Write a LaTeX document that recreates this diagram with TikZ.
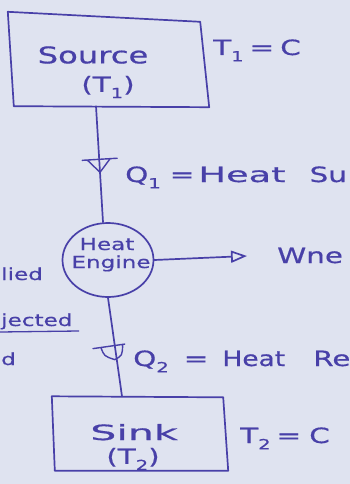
\documentclass[tikz,border=0pt]{standalone}
\usepackage{fontspec}
\usepackage{graphicx}
\newfontfamily\hand[FakeStretch=1.4,FakeBold=0.6]{DejaVu Sans}
\usetikzlibrary{arrows.meta,decorations.markings,calc,shapes.geometric}
\definecolor{paper}{RGB}{223,227,240}
\definecolor{ink}{RGB}{72,64,168}
\newcommand\subs[1]{\raisebox{-0.3em}{\fontsize{14}{14}\selectfont #1}}
\begin{document}
\begin{tikzpicture}[x=1pt,y=-1pt,
  every node/.style={text=ink,inner sep=0pt,font=\hand\fontsize{21}{23}\selectfont},
  inkline/.style={draw=ink,line width=1.7pt,line join=round,line cap=round},
  boxnode/.style={draw=none,minimum width=#1},
  small/.style={font=\hand\fontsize{16.5}{18}\selectfont},
  tipone/.style={postaction={decorate},decoration={markings,
     mark=at position #1 with {\draw[ink,line width=1.4pt,line join=round,line cap=round]
       (-13pt,-17pt) -- (-13pt,18pt) (-13pt,-12pt) -- (0pt,0pt) -- (-13pt,11pt);}}},
  tiptwo/.style={postaction={decorate},decoration={markings,
     mark=at position #1 with {\draw[ink,line width=1.4pt,line join=round,line cap=round]
       (-14pt,-22pt) -- (-14pt,10pt) (-14pt,-14pt) .. controls (-5pt,-12pt) .. (0pt,-2pt)
       .. controls (-3pt,6pt) .. (-14pt,8pt);}}}
]
\fill[paper] (0,0) rectangle (350,484);
\useasboundingbox (0,0) rectangle (350,484);
\clip (0,0) rectangle (350,484);

% Source box
\node[boxnode=197pt,minimum height=93pt] (src) at (108.5,59.5) {};
\draw[inkline] ($(src.north west)+(-2,-1)$) -- ($(src.north east)+(-7,9)$)
  -- ($(src.south east)+(2,1)$) -- ($(src.south west)+(4,0)$) -- cycle;
\node[font=\hand\fontsize{23}{25}\selectfont] (srct) at (93,55) {Source};
\node (srcn) at (108,87) {(T\subs{1})};
\node[anchor=base west] (t1c) at (213,55) {T\subs{1}\hspace{6pt}=\hspace{6pt}C};

% Heat engine
\node[draw=ink,line width=1.7pt,ellipse,minimum width=91pt,minimum height=74pt] (eng) at (108,260) {};
\node[small,anchor=base] (engh) at (107,250) {Heat};
\node[small,anchor=base] (enge) at (111,268) {Engine};

% Sink box
\node[boxnode=174pt,minimum height=75pt] (snk) at (140,434) {};
\draw[inkline] ($(snk.north west)+(-1,0)$) -- ($(snk.north east)+(-4,1)$)
  -- ($(snk.south east)+(1,-1)$) -- ($(snk.south west)+(2,-1)$) -- cycle;
\node[anchor=base] (snkt) at (134,440) {\scalebox{1.4}[1]{Sink}};
\node (snkn) at (133,459) {(T\subs{2})};
\node[anchor=base west] (t2c) at (240,443) {T\subs{2}\hspace{6pt}=\hspace{8pt}C};

% connectors
\draw[inkline,tipone=0.57] ([xshift=-12.5pt]src.south) -- ([xshift=-5pt]eng.north);
\draw[inkline,tiptwo=0.625] (eng.south) -- ([xshift=-18pt]snk.north);
\coordinate (wtip) at (247,256);
\draw[inkline,-{Triangle[open,width=12pt,length=16pt]}] (eng.east) -- (wtip);

% labels
\node[anchor=base west] (q1) at (125,182)
  {Q\subs{1}\hspace{9pt}=\hspace{4pt}\scalebox{1.25}[1]{Heat}\hspace{24pt}Su};
\node[anchor=base west] (w) at (277,263) {Wne};
\node[anchor=base west] (q2) at (133,366)
  {Q\subs{2}\hspace{15pt}=\hspace{14pt}\scalebox{0.9}[1]{Heat}\hspace{28pt}Re};

% left fragments
\node[small,anchor=base west] (l1) at (1,280) {lied};
\node[small,anchor=base west] (l2) at (1,326) {jected};
\draw[inkline,line width=1.3pt] ($(l2.base west)+(-1,6)$) -- ($(l2.base east)+(6,5)$);
\node[small,anchor=base west] (l3) at (1,365) {d};
\end{tikzpicture}
\end{document}
